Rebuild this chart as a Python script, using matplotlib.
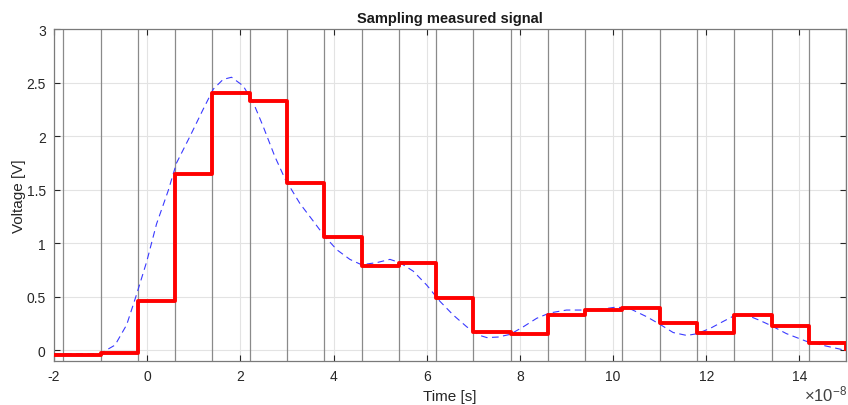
import matplotlib
matplotlib.use("Agg")
import matplotlib.pyplot as plt

plt.rcParams['font.family'] = ['Liberation Sans', 'DejaVu Sans']
plt.rcParams['axes.unicode_minus'] = False

# sample instants (units of 1e-8 s) and the held sample values
sample_t = [-2.6, -1.8, -1.0, -0.2, 0.6, 1.4, 2.2, 3.0, 3.8, 4.6, 5.4, 6.2, 7.0,
            7.8, 8.6, 9.4, 10.2, 11.0, 11.8, 12.6, 13.4, 14.2, 15.0]
sample_v = [-0.04, -0.04, -0.02, 0.46, 1.65, 2.40, 2.33, 1.56, 1.06, 0.79, 0.82,
            0.49, 0.17, 0.15, 0.33, 0.38, 0.40, 0.26, 0.16, 0.33, 0.23, 0.07, 0.01]

# measured signal
sig_t = [-2.0, -1.5, -1.01, -0.69, -0.44, -0.23, -0.01, 0.20, 0.45, 0.63, 0.92,
         1.20, 1.42, 1.63, 1.81, 2.06, 2.28, 2.49, 2.74, 2.96, 3.28, 3.56, 3.80,
         4.07, 4.35, 4.60, 4.93, 5.21, 5.42, 5.71, 6.00, 6.28, 6.57, 6.86, 7.14,
         7.29, 7.53, 7.79, 8.07, 8.36, 8.64, 9.00, 9.36, 9.79, 10.07, 10.36, 10.72,
         11.00, 11.29, 11.58, 11.79, 12.08, 12.36, 12.58, 12.87, 13.15, 13.40,
         13.72, 14.15, 14.58, 15.0]
sig_v = [-0.03, -0.03, -0.03, 0.05, 0.24, 0.52, 0.83, 1.18, 1.49, 1.75, 2.00,
         2.25, 2.44, 2.53, 2.55, 2.47, 2.31, 2.09, 1.81, 1.60, 1.37, 1.21, 1.07,
         0.94, 0.85, 0.80, 0.82, 0.85, 0.82, 0.74, 0.61, 0.46, 0.33, 0.22, 0.14,
         0.12, 0.125, 0.15, 0.22, 0.30, 0.35, 0.377, 0.377, 0.387, 0.405, 0.39, 0.315,
         0.245, 0.167, 0.14, 0.155, 0.205, 0.27, 0.32, 0.33, 0.28, 0.23,
         0.157, 0.085, 0.04, 0.0]

xticks = [-2, 0, 2, 4, 6, 8, 10, 12, 14]
yticks = [0, 0.5, 1, 1.5, 2, 2.5, 3]
ytick_labels = ['0', '0.5', '1', '1.5', '2', '2.5', '3']

fig = plt.figure(figsize=(8.48, 4.06), dpi=100)
ax = fig.add_axes([0.0637, 0.108, 0.934, 0.818])

ax.set_xlim(-2, 15)
ax.set_ylim(-0.1, 3)
ax.set_xticks(xticks)
ax.set_yticks(yticks)
ax.set_yticklabels(ytick_labels)
ax.grid(True, color='#e3e3e3', lw=0.8)
ax.set_axisbelow(True)

for t in sample_t[1:]:
    ax.axvline(t, color='#8a8a8a', lw=0.9, zorder=1)

ax.plot(sig_t, sig_v, color='#3a3aff', lw=0.8, ls=(0, (6, 4)), zorder=2)
ax.step(sample_t, sample_v, where='post', color='#ff0000', lw=2.8, zorder=3)

ax.tick_params(direction='in', length=4, top=True, right=True,
               colors='#262626', labelsize=10, pad=6)
for s in ax.spines.values():
    s.set_color('#7a7a7a')
    s.set_linewidth(0.9)

ax.set_title('Sampling measured signal', fontsize=10.5, fontweight='bold',
             color='#1a1a1a', pad=5)
ax.set_xlabel('Time [s]', fontsize=11, color='#262626', labelpad=4)
ax.set_ylabel('Voltage [V]', fontsize=11, color='#262626', labelpad=0)
fig.text(0.999, 0.004, r'$\mathregular{\times10^{-8}}$', ha='right',
         va='bottom', fontsize=12, color='#404040')

fig.savefig('out.png', dpi=100)
